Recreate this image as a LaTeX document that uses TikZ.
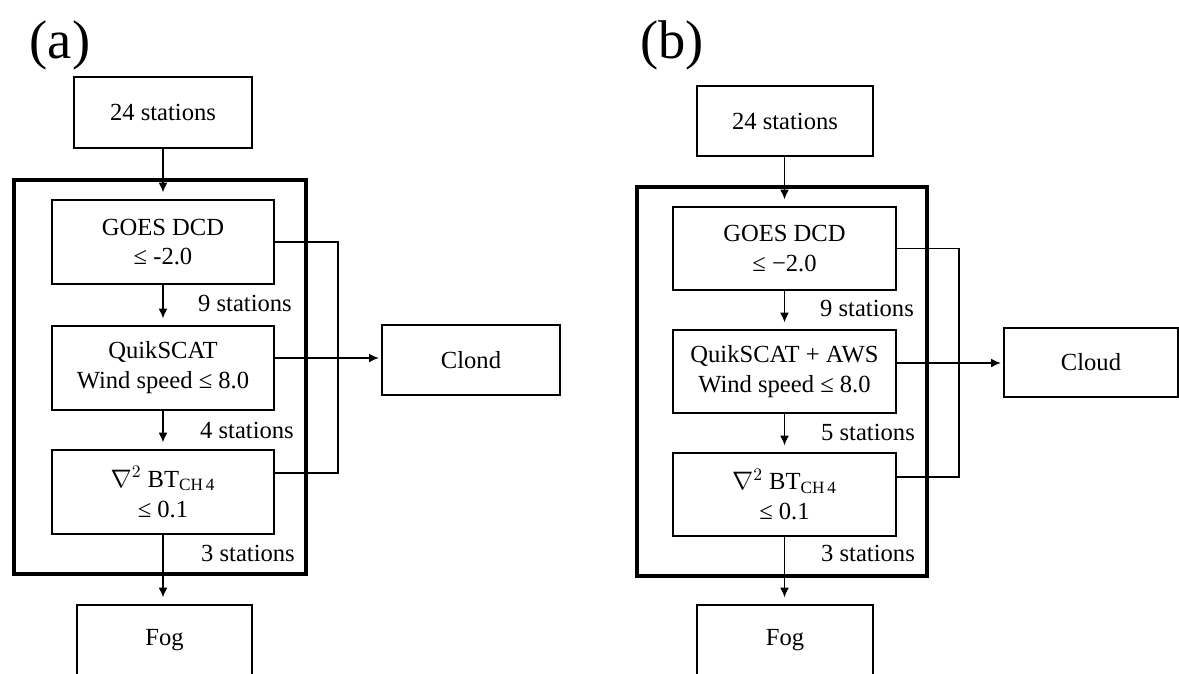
\documentclass[tikz,border=0pt]{standalone}
\usepackage{fontspec}
\setmainfont{Liberation Serif}
\usetikzlibrary{calc,arrows.meta}
\begin{document}
\begin{tikzpicture}[x=0.02cm,y=-0.02cm,
  box/.style={draw,line width=0.7pt,inner sep=0pt,align=center,font=\fontsize{14}{17}\selectfont},
  outerbox/.style={draw,line width=1.8pt,inner sep=0pt},
  lbl/.style={inner sep=0pt,font=\fontsize{14}{17}\selectfont},
  panel/.style={inner sep=0pt,font=\fontsize{31}{36}\selectfont},
  arr/.style={-{Latex[length=5.5pt,width=5pt]},line width=0.7pt,shorten >=4pt},
  arrh/.style={-{Latex[length=5.5pt,width=5pt]},line width=0.7pt,shorten >=1.5pt},
  conn/.style={line width=0.7pt}]
\useasboundingbox (0,0) rectangle (1179,673);

% ---------------- panel (a) ----------------
\node[panel] (laba) at (60,45) {(a)};
\node[outerbox,minimum width=5.84cm,minimum height=7.88cm] (outera) at (160,377) {};
\node[box,minimum width=3.56cm,minimum height=1.42cm] (s24a) at (163,112.5) {24 stations};
\node[box,minimum width=4.44cm,minimum height=1.68cm] (goesa) at (163,242) {GOES DCD\\≤ -2.0};
\node[box,minimum width=4.44cm,minimum height=1.68cm] (quika) at (163,368) {QuikSCAT\\Wind speed ≤ 8.0};
\node[box,minimum width=4.44cm,minimum height=1.68cm] (nablaa) at (163,492) {$\nabla^{2}$ BT\textsubscript{CH\,4}\\≤ 0.1};
\node[box,minimum width=3.5cm,minimum height=1.4cm] (foga) at (164.5,640) {Fog};
\node[box,minimum width=3.56cm,minimum height=1.4cm] (clouda) at (471,360) {Clond};
\node[lbl] (l9a) at (245,303) {9 stations};
\node[lbl] (l4a) at (247,430) {4 stations};
\node[lbl] (l3a) at (248,553) {3 stations};

\draw[arr] (s24a.south) -- (s24a.south |- goesa.north);
\draw[arr] (goesa.south) -- (goesa.south |- quika.north);
\draw[arr] (quika.south) -- (quika.south |- nablaa.north);
\draw[arr] (nablaa.south) -- (nablaa.south |- foga.north);
\coordinate (ga) at (goesa.east);
\coordinate (qa) at ($(quika.east)+(0,-10)$);
\coordinate (na) at ($(nablaa.east)+(0,-19)$);
\draw[conn] (ga) -- (338,242) -- (338,473) -- (na);
\draw[arrh] (qa) -- (qa -| clouda.west);

% ---------------- panel (b) ----------------
\node[panel] (labb) at (672,45) {(b)};
\node[outerbox,minimum width=5.8cm,minimum height=7.78cm] (outerb) at (782,381.5) {};
\node[box,minimum width=3.52cm,minimum height=1.4cm] (s24b) at (785,121) {24 stations};
\node[box,minimum width=4.46cm,minimum height=1.66cm] (goesb) at (784.5,248.5) {GOES DCD\\≤ −2.0};
\node[box,minimum width=4.46cm,minimum height=1.66cm] (quikb) at (784.5,371.5) {QuikSCAT + AWS\\Wind speed ≤ 8.0};
\node[box,minimum width=4.46cm,minimum height=1.66cm] (nablab) at (784.5,494.5) {$\nabla^{2}$ BT\textsubscript{CH\,4}\\≤ 0.1};
\node[box,minimum width=3.52cm,minimum height=1.4cm] (fogb) at (785,640) {Fog};
\node[box,minimum width=3.48cm,minimum height=1.38cm] (cloudb) at (1091,362.5) {Cloud};
\node[lbl] (l9b) at (867,308) {9 stations};
\node[lbl] (l5b) at (868,432) {5 stations};
\node[lbl] (l3b) at (868,553) {3 stations};

\draw[arr] (goesb.north |- s24b.south) -- (goesb.north);
\draw[arr] (goesb.south) -- (goesb.south |- quikb.north);
\draw[arr] (quikb.south) -- (quikb.south |- nablab.north);
\draw[arr] (nablab.south) -- (nablab.south |- fogb.north);
\coordinate (gb) at (goesb.east);
\coordinate (qb) at ($(quikb.east)+(0,-8.5)$);
\coordinate (nb) at ($(nablab.east)+(0,-17.5)$);
\draw[conn] (gb) -- (959,248.5) -- (959,477) -- (nb);
\draw[arrh] (qb) -- (qb -| cloudb.west);
\end{tikzpicture}
\end{document}
